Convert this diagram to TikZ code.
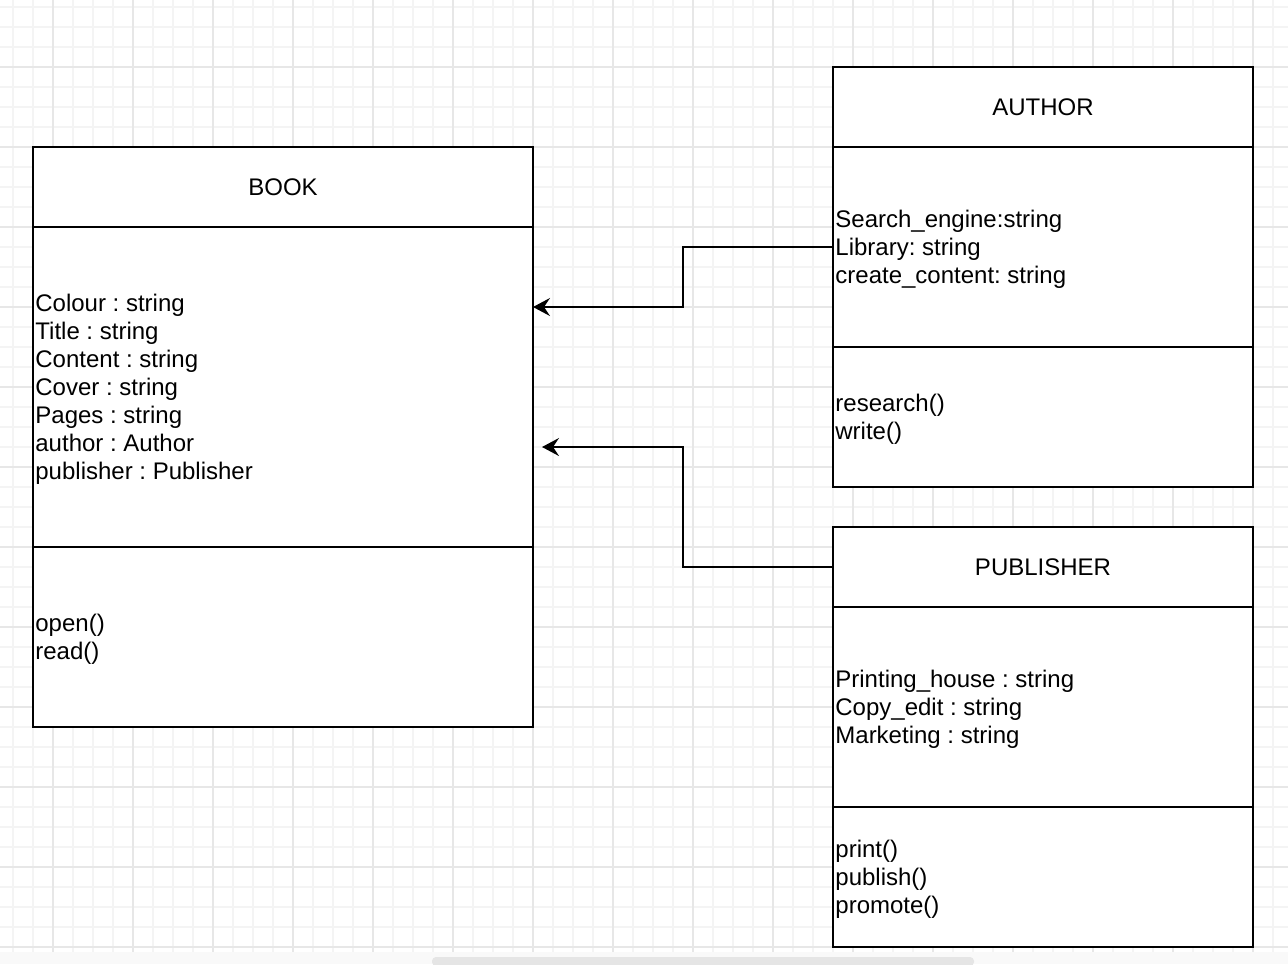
\documentclass[tikz,border=0pt]{standalone}
\usepackage{fontspec}
\setmainfont{Liberation Sans}
\usetikzlibrary{arrows.meta,calc}
\frenchspacing
\begin{document}
\begin{tikzpicture}[x=0.5pt,y=-0.5pt,
  comp/.style={draw=black, line width=1pt, fill=white, anchor=north west, inner sep=0pt, outer sep=0pt},
  classtitle/.style={font=\fontsize{12}{14}\selectfont},
  members/.style={font=\fontsize{12}{14}\selectfont, align=left, anchor=west, inner sep=0pt},
  assoc/.style={line width=1pt, -{Stealth[length=8.5pt,width=9pt,inset=3pt]}},
  minorgrid/.style={draw=gray!9, line width=0.6pt},
  majorgrid/.style={draw=gray!19, line width=0.6pt}]

\useasboundingbox (0,0) rectangle (1288,964);
\fill[white] (0,0) rectangle (1288,964);
% grid
\foreach \x in {13,33,...,1273} \draw[minorgrid] (\x,0) -- (\x,952);
\foreach \y in {7,27,...,947} \draw[minorgrid] (0,\y) -- (1288,\y);
\foreach \x in {53,133,...,1273} \draw[majorgrid] (\x,0) -- (\x,952);
\foreach \y in {67,147,...,947} \draw[majorgrid] (0,\y) -- (1288,\y);
% bottom band and scrollbar
\fill[gray!5] (0,952) rectangle (1288,964);
\fill[gray!20, rounded corners=2pt] (432,957) rectangle (974,966);

% BOOK
\node[comp, classtitle, minimum width=250pt, minimum height=40pt] (bookHead) at (33,147) {BOOK};
\node[comp, minimum width=250pt, minimum height=160pt] (bookAttr) at (bookHead.south west) {};
\node[comp, minimum width=250pt, minimum height=90pt] (bookMeth) at (bookAttr.south west) {};
\node[members] (bookAttrText) at ($(bookAttr.west)+(2,2)$)
  {Colour : string\\Title : string\\Content : string\\Cover : string\\Pages : string\\author : Author\\publisher : Publisher};
\node[members] (bookMethText) at ($(bookMeth.west)+(2,2)$) {open()\\read()};

% AUTHOR
\node[comp, classtitle, minimum width=210pt, minimum height=40pt] (authHead) at (833,67) {AUTHOR};
\node[comp, minimum width=210pt, minimum height=100pt] (authAttr) at (authHead.south west) {};
\node[comp, minimum width=210pt, minimum height=70pt] (authMeth) at (authAttr.south west) {};
\node[members] (authAttrText) at ($(authAttr.west)+(2,2)$)
  {Search\_engine:string\\Library: string\\create\_content: string};
\node[members] (authMethText) at ($(authMeth.west)+(2,2)$) {research()\\write()};

% PUBLISHER
\node[comp, classtitle, minimum width=210pt, minimum height=40pt] (pubHead) at (833,527) {PUBLISHER};
\node[comp, minimum width=210pt, minimum height=100pt] (pubAttr) at (pubHead.south west) {};
\node[comp, minimum width=210pt, minimum height=70pt] (pubMeth) at (pubAttr.south west) {};
\node[members] (pubAttrText) at ($(pubAttr.west)+(2,2)$)
  {Printing\_house : string\\Copy\_edit : string\\Marketing : string};
\node[members] (pubMethText) at ($(pubMeth.west)+(2,2)$) {print()\\publish()\\promote()};

% connectors
\coordinate (tip1) at ($(bookAttr.north east)+(0,80)$);
\coordinate (tip2) at ($(bookAttr.north east)+(9,220)$);
\draw[assoc] (authAttr.west) -- ++(-150,0) |- (tip1);
\draw[assoc] (pubHead.west) -- ++(-150,0) |- (tip2);
\end{tikzpicture}
\end{document}
